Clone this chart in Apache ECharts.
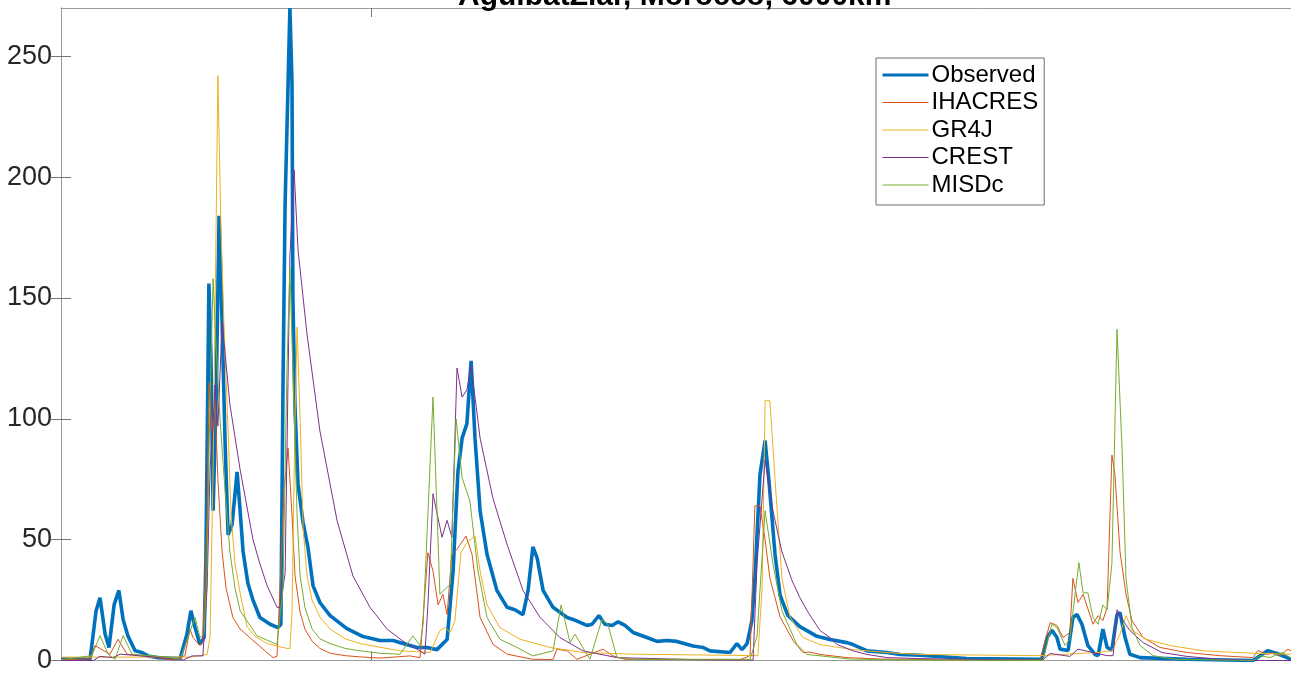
<!DOCTYPE html>
<html>
<head>
<meta charset="utf-8">
<script src="https://cdn.jsdelivr.net/npm/echarts@6/dist/echarts.min.js"></script>
<style>
html,body{margin:0;padding:0;background:#fff;}
#chart{width:1291px;height:674px;}
</style>
</head>
<body>
<div id="chart"></div>
<script>
// ---- data (time step, discharge) ----
const titleText = 'AguibatZiar, Morocco, 6000km²';
const seriesNames = ['Observed', 'IHACRES', 'GR4J', 'CREST', 'MISDc'];
const yTicks = [0, 50, 100, 150, 200, 250];
const xTicks = [103.3];
const xMax = 410;
const yMax = 270;

const observed = [[0,0.6],[9.7,0.6],[11.7,20.6],[13,26],[14.7,11],[16,5.4],[17.7,23],[19.3,29],[20.7,17],[22.3,10.2],[24.7,4],[27,3.3],[29,1.9],[32,1.2],[39.7,0.8],[42,11],[43.3,20.6],[44.7,13.6],[46.3,6.7],[47.7,9.5],[48.3,42],[49.3,156],[50,125],[50.7,62],[51.7,108],[52.7,184],[53.7,140],[54.7,90],[55.7,52],[57,56],[58.7,78],[59.7,62],[60.7,45],[62.3,32],[64,25],[66.3,17.8],[69.7,15],[72.3,13.6],[73.3,15],[74,114],[74.7,189],[75.7,239],[76.3,270],[77,239],[77.3,150],[78,105],[79,73],[80.7,57],[82.3,47],[84,31],[86.3,24],[89.7,18.6],[95.3,13.2],[100.7,9.9],[106.3,8.3],[110.7,8.3],[114,7],[118.7,5.4],[122,5.4],[125.3,4.5],[128.7,8.7],[130.7,37],[132.3,78],[133.7,92],[135.3,98],[136.7,124],[138,92],[139.7,62],[142,44],[145.3,29],[148.7,22],[151.3,21],[154,19],[155.7,29],[157.3,47],[158.7,42.5],[160.7,29],[164,22],[168.7,17.8],[170.7,17],[175.3,14.5],[177,15],[179.3,18.6],[181.3,15],[183.7,14.5],[185.7,16],[188,14.5],[190.7,11.6],[195.3,9.5],[198.7,7.9],[202,8.3],[205.3,7.9],[210.7,6],[214,5.4],[216.3,4],[223,3.3],[225.3,7],[227,4.5],[228.7,7],[230.3,16.5],[231.3,34],[233,77],[234.7,91],[236,74],[238,44],[239.7,27],[242.3,18.6],[246.3,14],[252,10],[256.3,8.7],[262,7.4],[264,6.6],[268.7,4],[275.3,3.3],[279.7,2.5],[286.3,2.2],[302,0.8],[327,0.5],[328.7,9.5],[330.3,12.5],[332,9.5],[333,4.7],[335.7,4.1],[337.3,17.8],[338.7,19],[340.3,15],[342.3,6.2],[344.7,2.5],[345.7,2],[347.3,13],[348.7,5.4],[350.3,4.3],[352,19],[353,19.8],[354.7,9.5],[356.3,2.6],[359.7,1.2],[375.3,0.5],[397.3,0],[399.7,2],[402.3,4.1],[405.3,2.9],[408.7,1.2],[410,0.5]];

const ihacres = [[0,0.3],[9.7,0.7],[11.3,6.2],[16.3,2.6],[19,8.8],[22,2.6],[28.7,1.7],[37.3,0.2],[41.3,2],[43,13],[44,9.5],[46.3,6.2],[47.3,8.3],[48.7,60],[49.3,115],[50.3,95],[51.3,108],[52.3,75],[53.7,45],[55,30],[57.3,17.8],[59.7,13],[64,8.3],[68,4],[70.7,1.2],[72,1.7],[73,30],[74.3,70],[75.7,88],[77,60],[78,35],[79.7,20],[81.3,13],[83.7,8],[86.3,5],[89.7,3],[94.7,2],[99.7,1.5],[106.3,1],[116.3,1.9],[119.7,1.2],[122.3,44.6],[124,37],[125.7,23],[127.3,27.4],[128.7,19],[130.3,44],[132,46],[135,51.5],[137,44],[139.7,17.8],[144,6.7],[148.7,2.6],[157.3,0.5],[164,0.4],[165.3,4.7],[168.7,4],[172,0.5],[180.7,4.7],[184,1.9],[188,0.5],[226.3,0.3],[229.7,2],[231.3,64],[233,64],[234.7,50],[236.3,34],[239.7,18],[244,8.3],[247.3,3.3],[249.7,3.5],[253,2.5],[262,1.2],[273,0.6],[296.3,0.3],[326.3,0.2],[329.7,15.7],[332,14.5],[334,9.5],[336.3,11.6],[337.3,34],[339,24],[340.7,27.4],[344,15],[345.7,18.6],[347.3,16.5],[348.7,22],[350.3,85],[351.3,77],[353,45],[355,27.4],[357,16.5],[360.7,9.5],[366.3,5.4],[375.3,3.3],[386.3,2],[397.3,1.2],[399,4.1],[402,2.5],[404,3.3],[406.3,2],[409,4.7],[410,4]];

const gr4j = [[0,1.4],[43,1.4],[48.7,2.5],[49.7,10],[50.7,80],[51.7,180],[52.3,242],[53.3,180],[54.3,140],[55.7,95],[56.7,60],[58,40],[59.7,28],[62,14],[64.7,10],[68.7,7],[75.3,5],[76.3,5],[77,20],[78,100],[78.7,138],[79.7,100],[80.7,55],[82,35],[83.7,25],[86.3,18],[89.7,13],[94.7,9],[99.7,7],[106.3,5.5],[113,4],[123,3.3],[126.3,12.3],[128,13.6],[129.7,11.6],[131.3,16.4],[133.3,44.6],[135.3,48.8],[138,51.5],[139.7,37],[142,23],[146.3,13.6],[153,8.8],[163,5.4],[174,3.3],[190.7,2.6],[213,2.3],[232.3,2],[233.7,30],[234.7,107.5],[236.3,107.5],[238,75],[240.3,34],[243,18],[247.3,9.5],[253,6.6],[264,4.5],[275.3,3.3],[286.3,2.5],[326.3,2],[345.3,3.3],[350.3,4],[353,10.9],[355,18.6],[357,12.4],[361.7,8.8],[369.7,6.2],[380.7,4],[392,3.3],[399.7,2.9],[410,2.6]];

const crest = [[0,0],[10.7,0],[13,1.7],[17.3,1.2],[19.7,2.6],[24,2.2],[33,1.2],[40.7,0.2],[43.7,1.9],[47.3,1.9],[48.7,30],[49.7,80],[50.7,97],[51.3,114],[52.3,97],[53.7,140],[56.3,106],[59.7,79],[64,50],[66.3,40],[68.7,31],[72,22],[73,22],[74.7,36],[76.3,167],[77.7,203],[79,170],[82,135],[86.3,95],[92,58],[97.3,35],[103,22],[108.7,13],[114,8],[119.7,4],[121.3,2.6],[122.3,23],[124,69],[127,51],[128.7,58],[130.3,51],[132,121],[133.7,109],[135.3,112],[136.7,122],[139.7,92],[144,67],[148.7,48],[154,29],[159.7,17.8],[166.3,9.5],[174,4],[185.3,1.2],[213,0.3],[230.7,0.2],[232,40],[234.7,83],[237.3,62],[240.3,45],[243.7,33],[246.3,26],[248.7,20.6],[253,12.4],[256.3,9.5],[258.7,6.6],[264,4],[268.7,2.5],[275.3,1.2],[286.3,0.8],[313,0.2],[327,0],[329.7,2.9],[336.3,1.7],[339,4.7],[348.7,2],[350.7,2],[352,21],[353.7,17],[356.3,12.4],[360.7,7.4],[367,3.3],[375.3,1.7],[386.3,0.5],[397.3,0],[410,0]];

const misdc = [[0,0.3],[10.3,2],[13,10.3],[15.7,2.6],[18,0.5],[20.7,10.3],[23.7,2.6],[33,1.7],[39.7,0.5],[44.7,17.8],[46.3,9.5],[47.7,11],[48.7,40],[49.7,110],[50.7,158],[51.7,130],[53,100],[54.7,70],[56.3,45],[58,30],[59.7,20.6],[65.3,10.3],[72,6.6],[74,30],[75.3,120],[76.3,163],[77.3,120],[78.7,60],[79.7,35],[81.3,22],[83.7,13],[86.3,9],[89.7,7],[94.7,5],[99.7,4],[106.3,3],[113,2.6],[117.3,10.2],[119.7,6.2],[120.7,15],[124,109],[126.3,27.4],[129.7,31.5],[131.7,100],[133.7,75.6],[136.3,66],[139,37],[142,17.8],[146.3,8.8],[152,5.4],[157.3,1.9],[164,4],[166.7,23],[169.7,7.4],[171.3,10.9],[176.3,0.5],[180.3,17],[182.3,15],[185.3,1.2],[190.7,0.5],[229.7,0.5],[232,10],[234.7,62],[237.3,40],[240.3,20.6],[245.3,6.6],[248.7,2.5],[263,0.6],[279.7,0.3],[327.3,0],[330.3,15],[332,13.6],[334.7,6.2],[336.3,8.8],[338,27.4],[339.3,40.5],[340.7,28],[342.3,28],[344,17.8],[345.7,15],[347.3,23],[348.7,21],[350.3,40],[352,137],[353.7,87],[355,34],[357,13.6],[359.7,6.2],[364,2],[371.3,0.5],[397.3,0],[399.7,2],[403,1.2],[407,3.3],[410,1]];

// ---- styling ----
const colors = ['#0072BD', '#D95319', '#EDB120', '#7E2F8E', '#77AC30'];
const widths = [3.6, 1, 1, 1, 1];
const legendWidths = [3, 1, 1, 1, 1];
const seriesData = [observed, ihacres, gr4j, crest, misdc];
const axisColor = '#9a9a9a';
const font = '"Liberation Sans", Arial, Helvetica, sans-serif';

const chart = echarts.init(document.getElementById('chart'), null, {renderer: 'canvas'});

const xAxisBase = {
  type: 'value', min: 0, max: xMax,
  splitLine: {show: false},
  axisLine: {show: true, onZero: false, lineStyle: {color: axisColor, width: 1}},
  axisTick: {show: true, inside: true, length: 9, customValues: xTicks, lineStyle: {color: '#777'}},
  axisLabel: {show: false}
};
const yAxisBase = {
  type: 'value', min: 0, max: yMax,
  splitLine: {show: false},
  axisLine: {show: true, lineStyle: {color: axisColor, width: 1}},
  axisTick: {show: true, inside: true, length: 10, customValues: yTicks, lineStyle: {color: '#777'}}
};

chart.setOption({
  animation: false,
  backgroundColor: '#ffffff',
  title: {
    text: titleText,
    left: 453,
    top: -23,
    textStyle: {fontFamily: font, fontWeight: 'bold', fontSize: 30, color: '#000'}
  },
  grid: {left: 61, right: -1, top: 8, bottom: 11, containLabel: false},
  xAxis: [
    Object.assign({}, xAxisBase, {position: 'bottom'}),
    Object.assign({}, xAxisBase, {position: 'top'})
  ],
  yAxis: [
    Object.assign({}, yAxisBase, {
      position: 'left',
      axisLabel: {show: true, customValues: yTicks, margin: 9, fontSize: 27, fontFamily: font, color: '#262626'}
    }),
    Object.assign({}, yAxisBase, {position: 'right', axisLabel: {show: false}})
  ],
  legend: {
    show: true,
    data: seriesNames.map((name, i) => ({name: name, lineStyle: {width: legendWidths[i]}})),
    orient: 'vertical',
    left: 876,
    top: 58,
    padding: [5, 6, 8, 5],
    itemWidth: 46,
    itemHeight: 14,
    itemGap: 3.5,
    backgroundColor: '#ffffff',
    borderColor: '#6e6e6e',
    borderWidth: 1,
    borderRadius: 0,
    itemStyle: {opacity: 0, borderWidth: 0},
    textStyle: {fontFamily: font, fontSize: 24, color: '#000', lineHeight: 24, padding: [0, 0, 0, -2]}
  },
  series: seriesNames.map((name, i) => ({
    name: name,
    type: 'line',
    data: seriesData[i],
    symbol: 'none',
    showSymbol: false,
    clip: true,
    silent: true,
    xAxisIndex: 0,
    yAxisIndex: 0,
    z: i === 0 ? 2 : 3,
    color: colors[i],
    lineStyle: {color: colors[i], width: widths[i]}
  }))
});
</script>
</body>
</html>
